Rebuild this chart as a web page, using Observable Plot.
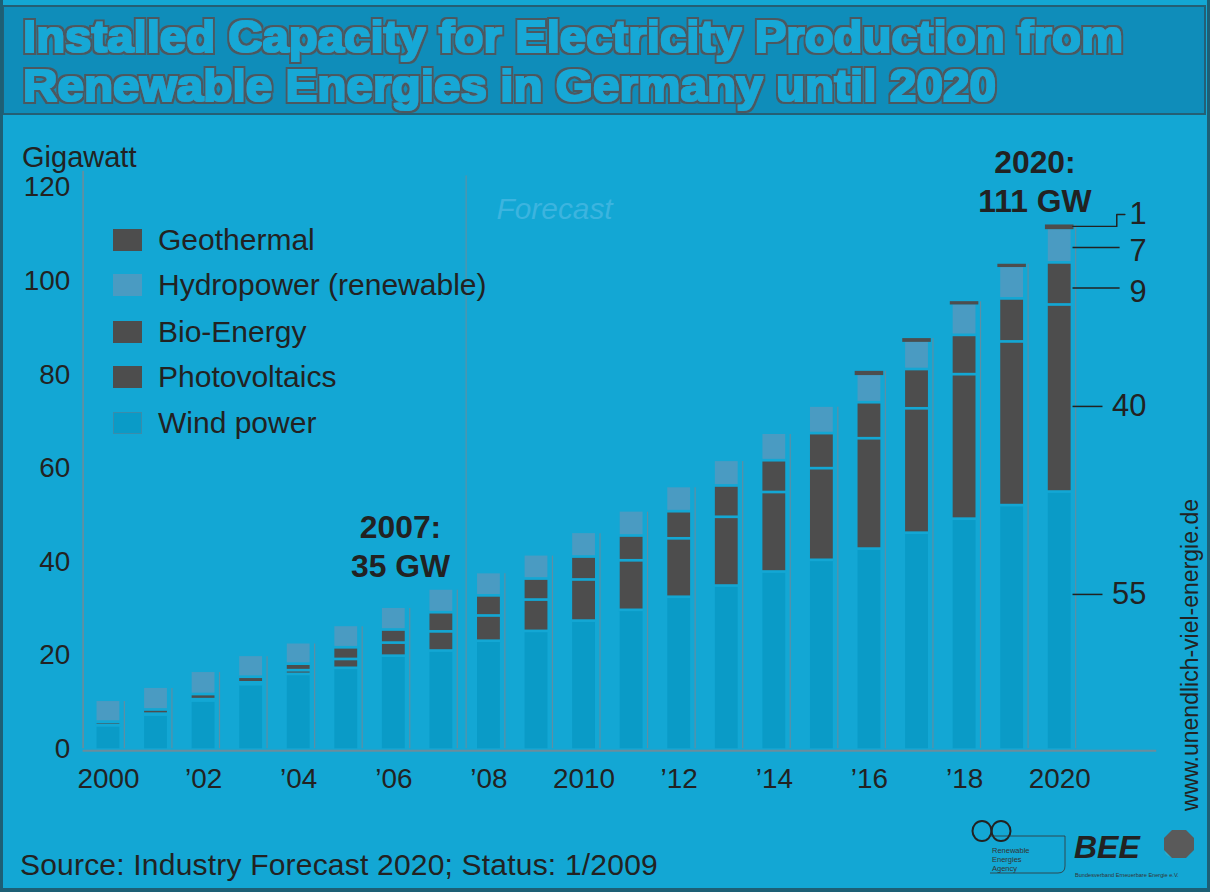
<!DOCTYPE html>
<html><head><meta charset="utf-8">
<script src="https://cdn.jsdelivr.net/npm/d3@7"></script>
<script src="https://cdn.jsdelivr.net/npm/@observablehq/plot@0.6"></script>
<style>
body{margin:0;background:#13a7d4;}
#wrap{position:relative;width:1210px;height:892px;overflow:hidden;background:#13a7d4;font-family:"Liberation Sans",Arial,sans-serif;color:#222;box-sizing:border-box;border-left:3px solid #1d5f75;border-right:3px solid #1d5f75;border-bottom:4px solid #1d5f75;}
#wrap > * {position:absolute;}
.lg-row{position:absolute;left:110px;height:30px;display:flex;align-items:center;}
.lg-sw{width:29px;height:22px;box-sizing:border-box;}
.lg-tx{position:absolute;left:45px;font-size:30px;white-space:nowrap;line-height:30px;color:#222;}
</style></head><body><div id="wrap"></div>
<script>
// ---- data ----
const years = [2000,2001,2002,2003,2004,2005,2006,2007,2008,2009,2010,2011,2012,2013,2014,2015,2016,2017,2018,2019,2020];
const windPower     = [5.0, 7.3, 10.3, 13.8, 16.0, 17.3, 19.9, 21.0, 23.1, 25.2, 27.4, 29.7, 32.5, 34.9, 37.9, 40.4, 42.8, 46.2, 49.2, 52.1, 55];
const photovoltaics = [0.1, 0.2, 0.3, 0.4, 0.8, 1.9, 2.8, 4.1, 5.4, 6.7, 8.8, 10.6, 12.5, 14.7, 17.0, 19.6, 23.6, 26.6, 30.9, 35.0, 40];
const bioEnergy     = [0.7, 0.9, 1.1, 1.2, 1.4, 2.5, 2.8, 4.1, 4.3, 4.5, 4.9, 5.3, 5.8, 6.7, 6.8, 7.5, 7.7, 8.4, 8.4, 9.2, 9];
const hydropower    = [4.3, 4.5, 4.6, 4.3, 4.2, 4.4, 4.5, 4.7, 4.6, 4.8, 4.9, 5.0, 5.0, 5.1, 5.5, 5.5, 5.7, 5.7, 6.4, 6.6, 7];
const geothermal    = [0, 0, 0, 0, 0, 0, 0, 0, 0, 0, 0, 0, 0, 0, 0, 0, 0.9, 0.8, 0.7, 0.7, 1];
const seriesNames = ["Wind power", "Photovoltaics", "Bio-Energy", "Hydropower (renewable)", "Geothermal"];
const tickYears = [2000, 2002, 2004, 2006, 2008, 2010, 2012, 2014, 2016, 2018, 2020];
const tickLabels = ["2000", "\u201902", "\u201904", "\u201906", "\u201908", "2010", "\u201912", "\u201914", "\u201916", "\u201918", "2020"];
const yTicks = [0, 20, 40, 60, 80, 100, 120];
const annoYears = [2007, 2020];
const annoLabels = ["2007:\n35 GW", "2020:\n111 GW"];

// ---- styling ----
const BG = "#13a7d4";
const seriesColors = ["#0a9bc7", "#4d4d4d", "#4d4d4d", "#4a9bc2", "#4d4d4d"];
const seriesValues = [windPower, photovoltaics, bioEnergy, hydropower, geothermal];

// stacked segments
const segs = [];
const seps = [];
const totals = [];
years.forEach((yr, i) => {
  let base = 0;
  seriesValues.forEach((vals, k) => {
    const v = vals[i];
    if (v > 0) segs.push({year: yr, type: seriesNames[k], y1: base, y2: base + v});
    base += v;
    if (k < 3 && v > 0) seps.push({year: yr, y: base});
  });
  totals.push({year: yr, total: base});
});
const annos = annoYears.map((yr, j) => ({year: yr, total: totals[years.indexOf(yr)].total, label: annoLabels[j]}));

// 2020 call-outs, values come from the data
const last = years.length - 1;
const callouts = [
  {v: geothermal[last], lineY: 111.7, textY: 114.25, x2: 2021.20, tx: 2021.47},
  {v: hydropower[last], lineY: 107.2, textY: 106.5, x2: 2021.27, tx: 2021.47},
  {v: bioEnergy[last], lineY: 98.5, textY: 97.6, x2: 2021.27, tx: 2021.47},
  {v: photovoltaics[last], lineY: 73.2, textY: 73.2, x2: 2020.91, tx: 2021.10},
  {v: windPower[last], lineY: 33.0, textY: 33.0, x2: 2020.91, tx: 2021.10}
];
const elbow = callouts[0];
const elbowPts = [
  {x: 2020.28, y: elbow.lineY}, {x: elbow.x2, y: elbow.lineY},
  {x: elbow.x2, y: elbow.textY}, {x: 2021.37, y: elbow.textY}
];

const halfW = 0.24;
const plot = Plot.plot({
  width: 1210, height: 892,
  marginTop: 188, marginBottom: 140, marginLeft: 83, marginRight: 48,
  style: {background: "transparent", fontSize: "28px", fontFamily: "'Liberation Sans', Arial, sans-serif", color: "#222"},
  x: {type: "linear", domain: [1999.467, 2022.04]},
  y: {domain: [0, 120]},
  color: {domain: seriesNames, range: seriesColors},
  marks: [
    Plot.ruleX([1999.467], {y1: 0, y2: 123.5, stroke: "#6b8c9c", strokeWidth: 1.6}),
    Plot.ruleX([2007.52], {y1: 0, y2: 122.5, stroke: "#6b8c9c", strokeWidth: 1}),
    Plot.ruleX(totals, {x: d => d.year + 0.335, y1: 0, y2: "total", stroke: "#5f8ea4", strokeWidth: 1.2}),
    Plot.rect(segs.filter(d => d.type !== "Geothermal"), {x1: d => d.year - halfW, x2: d => d.year + halfW, y1: "y1", y2: "y2", fill: "type"}),
    Plot.rect(segs.filter(d => d.type === "Geothermal"), {x1: d => d.year - 0.3, x2: d => d.year + 0.3, y1: "y1", y2: "y2", fill: "type"}),
    Plot.ruleY(seps, {x1: d => d.year - 0.26, x2: d => d.year + 0.26, y: "y", stroke: BG, strokeWidth: 2.7}),
    Plot.ruleY([0], {stroke: "#6b8c9c", strokeWidth: 2, dy: 2}),
    Plot.axisY({ticks: yTicks, tickSize: 0, tickPadding: 13, label: null, fontSize: 28, fill: "#222"}),
    Plot.axisX({ticks: tickYears, tickFormat: d => tickLabels[tickYears.indexOf(d)], tickSize: 0, tickPadding: 20, label: null, fontSize: 28, fill: "#222"}),
    Plot.text(["Forecast"], {x: () => 2009.38, y: () => 115.3, text: d => d, fontSize: 30, fontStyle: "italic", fill: "#3cb4df"}),
    Plot.text(annos, {x: d => d.year + (d.year === 2007 ? -0.86 : -0.52), y: "total", text: "label", dy: -45, lineHeight: 1.22, fontSize: 32, fontWeight: "bold", fill: "#222"}),
    Plot.line(elbowPts, {x: "x", y: "y", stroke: "#222", strokeWidth: 1.5}),
    Plot.ruleY(callouts.slice(1), {x1: () => 2020.28, x2: "x2", y: "lineY", stroke: "#222", strokeWidth: 1.5}),
    Plot.text(callouts, {x: "tx", y: "textY", text: d => String(d.v), textAnchor: "start", fontSize: 31, fill: "#222"})
  ]
});
plot.style.position = "absolute";
plot.style.left = "-3px";
plot.style.top = "0px";
const wrap = document.getElementById("wrap");
wrap.appendChild(plot);

// title band
const ns = "http://www.w3.org/2000/svg";
const title = document.createElementNS(ns, "svg");
title.setAttribute("width", 1210); title.setAttribute("height", 120);
title.style.position = "absolute"; title.style.left = "-3px"; title.style.top = "0px";
const t1 = "Installed Capacity for Electricity Production from";
const t2 = "Renewable Energies in Germany until 2020";
const tAttr = `font-family="'Liberation Sans', Arial, sans-serif" font-weight="bold" font-size="44" lengthAdjust="spacingAndGlyphs" fill="#15a8d6" filter="url(#heavy)"`;
title.innerHTML = `
  <defs>
    <filter id="heavy" x="-5%" y="-40%" width="110%" height="180%">
      <feMorphology in="SourceAlpha" operator="dilate" radius="2.6" result="outer"/>
      <feFlood flood-color="#4b5960" result="grey"/>
      <feComposite in="grey" in2="outer" operator="in" result="outline"/>
      <feMorphology in="SourceGraphic" operator="dilate" radius="1.4" result="inner"/>
      <feMerge><feMergeNode in="outline"/><feMergeNode in="inner"/></feMerge>
    </filter>
  </defs>
  <rect x="3" y="6" width="1202" height="108" fill="#0f8dba" stroke="#245f75" stroke-width="2"/>
  <text x="23" y="52" textLength="1100" ${tAttr}>${t1}</text>
  <text x="23" y="101" textLength="973" ${tAttr}>${t2}</text>`;
wrap.appendChild(title);

// y-axis unit label
const unit = document.createElement("div");
unit.textContent = "Gigawatt";
unit.style.cssText = "left:19px;top:141px;font-size:29px;line-height:32px;color:#222;";
wrap.appendChild(unit);

// legend (top to bottom = reverse stack order)
const rowCenters = [240, 285, 332, 377, 423];
seriesNames.slice().reverse().forEach((name, j) => {
  const k = seriesNames.indexOf(name);
  const row = document.createElement("div");
  row.className = "lg-row";
  row.style.top = (rowCenters[j] - 15) + "px";
  const sw = document.createElement("div");
  sw.className = "lg-sw";
  sw.style.background = seriesColors[k];
  if (k === 0) sw.style.border = "1px solid #3a8cab";
  const tx = document.createElement("div");
  tx.className = "lg-tx";
  tx.textContent = name;
  row.appendChild(sw); row.appendChild(tx);
  wrap.appendChild(row);
});

// source
const src = document.createElement("div");
src.textContent = "Source: Industry Forecast 2020; Status: 1/2009";
src.style.cssText = "left:17px;top:848px;font-size:30px;line-height:34px;letter-spacing:0.2px;color:#222;white-space:nowrap;";
wrap.appendChild(src);

// logos + url
const deco = document.createElementNS(ns, "svg");
deco.setAttribute("width", 1210); deco.setAttribute("height", 892);
deco.style.position = "absolute"; deco.style.left = "-3px"; deco.style.top = "0px";
deco.innerHTML = `
  <text transform="translate(1198,655) rotate(-90)" text-anchor="middle" font-family="'Liberation Sans', Arial, sans-serif" font-size="23" fill="#222">www.unendlich-viel-energie.de</text>
  <g fill="none" stroke="#222" stroke-width="2">
    <ellipse cx="982" cy="831" rx="9.5" ry="10"/>
    <ellipse cx="1001" cy="831" rx="9.5" ry="10"/>
  </g>
  <path d="M990 836 H1065 V866 Q1065 873 1058 873 H990" fill="none" stroke="#333" stroke-width="0.8"/>
  <g font-family="'Liberation Sans', Arial, sans-serif" font-size="7.5" fill="#333">
    <text x="992" y="853">Renewable</text>
    <text x="992" y="862">Energies</text>
    <text x="992" y="871">Agency</text>
  </g>
  <text x="1074" y="858" font-family="'Liberation Sans', Arial, sans-serif" font-size="32" font-weight="bold" font-style="italic" fill="#222">BEE</text>
  <text x="1075" y="877" font-family="'Liberation Sans', Arial, sans-serif" font-size="5.6" fill="#333">Bundesverband Erneuerbare Energie e.V.</text>
  <ellipse cx="1178" cy="852" rx="13" ry="6" fill="#3fb0c8" opacity="0.6"/>
  <polygon points="1172,830 1186,830 1194,838 1194,850 1186,858 1172,858 1164,850 1164,838" fill="#5a5a5a"/>
`;
wrap.appendChild(deco);
</script></body></html>
